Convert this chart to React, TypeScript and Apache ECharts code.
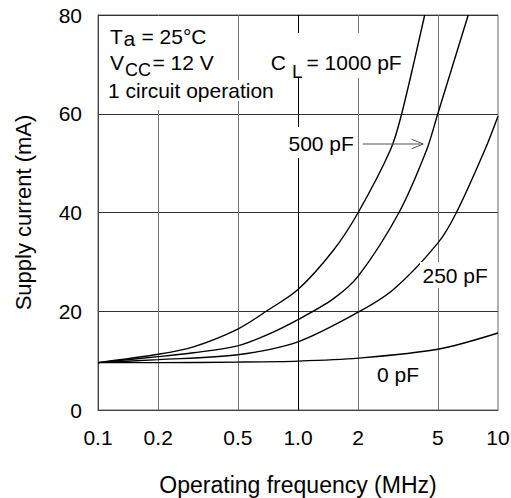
import React, { useEffect, useRef } from "react";
import * as echarts from "echarts";

const FONT = "'Liberation Sans', Arial, Helvetica, sans-serif";

// Axis ticks
const xTickValues = [0.1, 0.2, 0.5, 1, 2, 5, 10];
const xTickLabels = ["0.1", "0.2", "0.5", "1.0", "2", "5", "10"];
const xGridValues = [0.2, 0.5, 1, 2, 5];

// Curves: frequency (MHz) vs supply current (mA)
const freq0 = [0.1, 0.2, 0.5, 1, 2, 5, 10];
const current0 = [9.6, 9.6, 9.7, 9.9, 10.5, 12.3, 15.6];

const freq250 = [0.1, 0.2, 0.5, 1, 2, 3, 5, 6.2, 8.6, 10];
const current250 = [9.6, 10.2, 11.2, 13.8, 19.8, 24.4, 33.8, 40, 52.7, 59.5];

const freq500 = [0.1, 0.2, 0.3, 0.5, 0.7, 1, 1.5, 2, 3.2, 4.4, 5, 7.1];
const current500 = [9.6, 10.8, 11.6, 13.0, 15.2, 18.3, 22.5, 27.1, 40, 52.7, 60, 80];

const freq1000 = [0.1, 0.2, 0.3, 0.5, 0.7, 1, 1.5, 2, 2.9, 3.3, 4.3];
const current1000 = [9.6, 11.3, 12.8, 16.4, 20.1, 24.4, 32.3, 40, 52.7, 60, 80];

const pairs = (f: number[], c: number[]) => f.map((x, i) => [x, c[i]]);

const curve = (f: number[], c: number[], extra: any = {}) => ({
  type: "line",
  data: pairs(f, c),
  showSymbol: false,
  symbol: "none",
  smooth: 0.3,
  silent: true,
  z: 10,
  lineStyle: { color: "#000", width: 1.4 },
  ...extra,
});

const txt = (text: string, x: number, y: number, size = 21, align = "left") => ({
  type: "text",
  x,
  y,
  z: 60,
  silent: true,
  style: {
    text,
    fontSize: size,
    fontFamily: FONT,
    fill: "#000",
    align,
    verticalAlign: "middle",
  },
});

const whiteRect = (x: number, y: number, w: number, h: number) => ({
  type: "rect",
  z: 50,
  silent: true,
  shape: { x, y, width: w, height: h },
  style: { fill: "#fff" },
});

export default function App() {
  const ref = useRef<HTMLDivElement>(null);

  useEffect(() => {
    document.body.style.margin = "0";
    if (!ref.current) return;
    const chart = echarts.init(ref.current, undefined, { renderer: "svg" });

    const baseGraphic: any[] = [
      whiteRect(99.5, 16, 121, 94),
      whiteRect(99.5, 80, 186, 21),
      whiteRect(268, 33, 136, 45),
      whiteRect(286, 127, 69, 31),
      whiteRect(420, 262, 71, 26),
      txt("T", 110, 36),
      txt("a", 123.5, 38.4),
      txt("= 25°C", 141.5, 36),
      txt("V", 110, 62.7),
      txt("CC", 125, 70, 18),
      txt("= 12 V", 152.5, 62.7),
      txt("1 circuit operation", 108, 90),
      txt("C", 270.7, 62.7),
      txt("L", 292, 71.5, 19),
      txt("= 1000 pF", 306.5, 62.7),
      txt("500 pF", 288.5, 143.4),
      txt("250 pF", 422.5, 275.4),
      txt("0 pF", 377, 374.4),
      {
        type: "line",
        z: 60,
        silent: true,
        shape: { x1: 362.7, y1: 144, x2: 423, y2: 144 },
        style: { stroke: "#555", lineWidth: 1 },
      },
      {
        type: "polyline",
        z: 60,
        silent: true,
        shape: { points: [[411.7, 139.3], [423.3, 144], [411.7, 148.7]] },
        style: { stroke: "#555", lineWidth: 1, fill: "none" },
      },
    ];

    const option: any = {
      animation: false,
      backgroundColor: "#fff",
      grid: {
        left: 98,
        right: 13,
        top: 15,
        bottom: 88,
        containLabel: false,
        outerBoundsMode: "none",
        show: true,
        borderColor: "#666",
        borderWidth: 1,
        backgroundColor: "transparent",
      },
      xAxis: {
        type: "log",
        logBase: 10,
        min: 0.1,
        max: 10,
        axisLine: { show: true, onZero: false, lineStyle: { color: "#444", width: 1 } },
        axisTick: { show: false },
        axisLabel: { show: false },
        splitLine: { show: false },
        minorTick: { show: false },
        minorSplitLine: { show: false },
        name: "Operating frequency (MHz)",
        nameLocation: "middle",
        nameGap: 63,
        nameTextStyle: { fontSize: 23, color: "#000", fontFamily: FONT },
      },
      yAxis: {
        type: "value",
        min: 0,
        max: 80,
        interval: 20,
        axisLine: { show: true, lineStyle: { color: "#444", width: 1 } },
        axisTick: { show: false },
        axisLabel: { fontSize: 21, color: "#000", margin: 16, fontFamily: FONT },
        splitLine: { show: true, lineStyle: { color: "#333", width: 1 } },
        name: "Supply current (mA)",
        nameLocation: "middle",
        nameRotate: 90,
        nameGap: 64,
        nameTextStyle: { fontSize: 22, color: "#000", fontFamily: FONT },
      },
      series: [
        curve(freq0, current0, {
          markLine: {
            silent: true,
            symbol: "none",
            z: 1,
            label: { show: false },
            emphasis: { disabled: true },
            lineStyle: { type: "solid", color: "#777", width: 1 },
            data: xGridValues.map((v) =>
              v === 1
                ? { xAxis: v, lineStyle: { type: "solid", color: "#000", width: 1 } }
                : { xAxis: v }
            ),
          },
        }),
        curve(freq250, current250),
        curve(freq500, current500),
        curve(freq1000, current1000),
      ],
      graphic: baseGraphic,
    };

    chart.setOption(option);

    // x-axis tick labels placed through the log axis scale
    const yBase = chart.convertToPixel({ yAxisIndex: 0 }, 0) as number;
    const tickLabels = xTickValues.map((v, i) => {
      const px = chart.convertToPixel({ xAxisIndex: 0 }, v) as number;
      return txt(xTickLabels[i], px, yBase + 27.5, 21, "center");
    });
    chart.setOption({ graphic: [...baseGraphic, ...tickLabels] });

    return () => chart.dispose();
  }, []);

  return (
    <div
      ref={ref}
      style={{ position: "fixed", left: 0, top: 0, width: 511, height: 498 }}
    />
  );
}
